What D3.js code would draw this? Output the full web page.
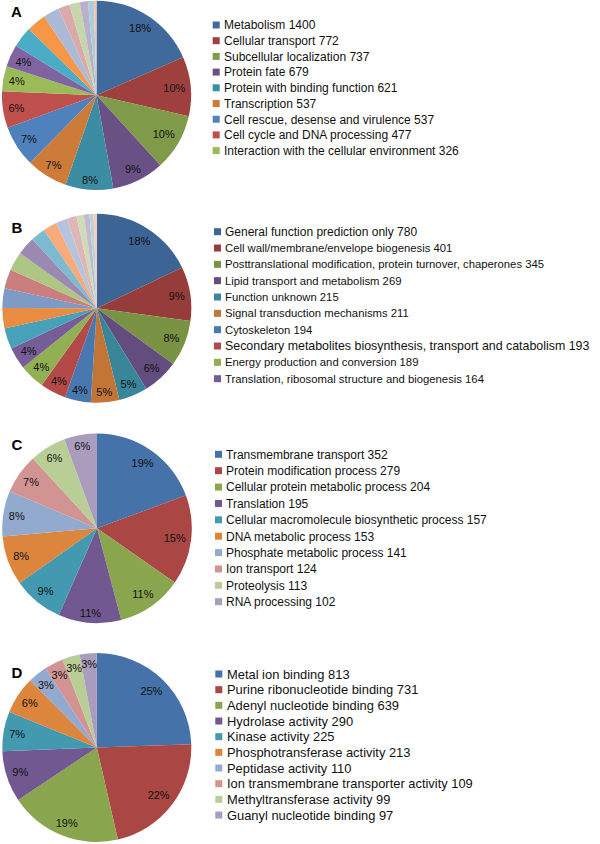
<!DOCTYPE html>
<html><head><meta charset="utf-8">
<script src="https://cdn.jsdelivr.net/npm/d3@7"></script>
<style>
body{margin:0;background:#fff}
svg{display:block}
text{font-family:"Liberation Sans",Arial,sans-serif}
</style>
</head><body>
<svg id="chart" width="600" height="844"></svg>
<script>
// ---------- DATA ----------
const aNames = ["Metabolism","Cellular transport","Subcellular localization","Protein fate","Protein with binding function","Transcription","Cell rescue, desense and virulence","Cell cycle and DNA processing","Interaction with the cellular environment"];
const aValues = [1400,772,737,679,621,537,537,477,326,290,270,255,210,145,138,105,78,33];
const aPctLabels = ["18%","10%","10%","9%","8%","7%","7%","6%","4%","4%"];

const bNames = ["General function prediction only","Cell wall/membrane/envelope biogenesis","Posttranslational modification, protein turnover, chaperones","Lipid transport and metabolism","Function unknown","Signal transduction mechanisms","Cytoskeleton","Secondary metabolites biosynthesis, transport and catabolism","Energy production and conversion","Translation, ribosomal structure and biogenesis"];
const bValues = [780,401,345,269,215,211,194,193,189,164,155,152,146,143,140,136,110,102,86,72,55,42,30,24];
const bPctLabels = ["18%","9%","8%","6%","5%","5%","4%","4%","4%","4%"];

const cNames = ["Transmembrane transport","Protein modification process","Cellular protein metabolic process","Translation","Cellular macromolecule biosynthetic process","DNA metabolic process","Phosphate metabolic process","Ion transport","Proteolysis","RNA processing"];
const cValues = [352,279,204,195,157,153,141,124,113,102];
const cPctLabels = ["19%","15%","11%","11%","9%","8%","8%","7%","6%","6%"];

const dNames = ["Metal ion binding","Purine ribonucleotide binding","Adenyl nucleotide binding","Hydrolase activity","Kinase activity","Phosphotransferase activity","Peptidase activity","Ion transmembrane transporter activity","Methyltransferase activity","Guanyl nucleotide binding"];
const dValues = [813,731,639,290,225,213,110,109,99,97];
const dPctLabels = ["25%","22%","19%","9%","7%","6%","3%","3%","3%","3%"];

const panelLetters = ["A","B","C","D"];

// ---------- STYLE / LAYOUT ----------
const accents = ['#4F81BD','#C0504D','#9BBB59','#8064A2','#4BACC6','#F79646'];
function toLin(c){c/=255;return c<=0.04045?c/12.92:Math.pow((c+0.055)/1.055,2.4);}
function toS(l){const v=l<=0.0031308?l*12.92:1.055*Math.pow(l,1/2.4)-0.055;return Math.round(Math.max(0,Math.min(1,v))*255);}
function pointColor(i,n){
  const base=d3.rgb(accents[i%6]);
  const cycles=Math.ceil(n/6), cyc=Math.floor(i/6);
  if(cycles<=1) return base.formatHex();
  const f=(cyc+1)/(cycles+1)*1.4-0.7;
  const ch=[base.r,base.g,base.b].map(toLin).map(l=>f<0?l*(1+f):l*(1-f)+f).map(toS);
  return d3.rgb(ch[0],ch[1],ch[2]).formatHex();
}

const layout = [
  {cx:96.5,cy:95.3,r:94.6,lx:11,ly:16.7,tx:224,sq:212.7,y0:25,step:15.7,fs:12,over:{}},
  {cx:96.8,cy:308.3,r:94.5,lx:11.5,ly:232.7,tx:225,sq:214,y0:231.7,step:16.33,fs:11.3,
     over:{0:{fs:12},7:{fs:12.4}}},
  {cx:97,cy:528.3,r:94.8,lx:11.5,ly:450,tx:226,sq:215,y0:454.3,step:16.38,fs:12,over:{}},
  {cx:96.8,cy:747.5,r:94.5,lx:11.5,ly:678.3,tx:227,sq:215.3,y0:674,step:15.67,fs:12.9,over:{}}
];
const dataSets = [
  {names:aNames,values:aValues,pct:aPctLabels},
  {names:bNames,values:bValues,pct:bPctLabels},
  {names:cNames,values:cValues,pct:cPctLabels},
  {names:dNames,values:dValues,pct:dPctLabels}
];

const svg = d3.select("#chart");
svg.append("rect").attr("width",600).attr("height",844).attr("fill","#fff");

const pie = d3.pie().sort(null).value(d=>d);

dataSets.forEach((ds,pi)=>{
  const L = layout[pi];
  const n = ds.values.length;
  const g = svg.append("g").attr("transform",`translate(${L.cx},${L.cy})`);
  const arcs = pie(ds.values);
  const arc = d3.arc().innerRadius(0).outerRadius(L.r);
  g.selectAll("path").data(arcs).join("path")
    .attr("d",arc)
    .attr("fill",(d,i)=>pointColor(i,n));

  // percentage labels (inside end)
  arcs.slice(0, ds.pct.length).forEach((a,i)=>{
    const t = g.append("text").text(ds.pct[i])
      .attr("font-size",11).attr("fill","#111")
      .attr("text-anchor","middle");
    const w = t.node().getComputedTextLength();
    const h = 9;
    const th = (a.startAngle+a.endAngle)/2;
    const s = Math.sin(th), c = Math.cos(th);
    const dist = L.r - 5 - (Math.abs(s)*w/2 + Math.abs(c)*h/2);
    t.attr("x", s*dist).attr("y", -c*dist + 4);
  });

  // panel letter
  svg.append("text").text(panelLetters[pi])
    .attr("x",L.lx).attr("y",L.ly)
    .attr("font-size",15).attr("font-weight","bold").attr("fill","#000");

  // legend
  const lg = svg.append("g");
  ds.names.forEach((nm,i)=>{
    const y = L.y0 + i*L.step;
    const o = L.over[i] || {};
    lg.append("rect").attr("x",L.sq).attr("y",y-3.5).attr("width",7).attr("height",7)
      .attr("fill",pointColor(i,n));
    lg.append("text").text(nm+" "+ds.values[i])
      .attr("x",L.tx).attr("y",y+ (o.fs||L.fs)*0.36)
      .attr("font-size",o.fs||L.fs).attr("fill","#111");
  });
});
</script>
</body></html>
